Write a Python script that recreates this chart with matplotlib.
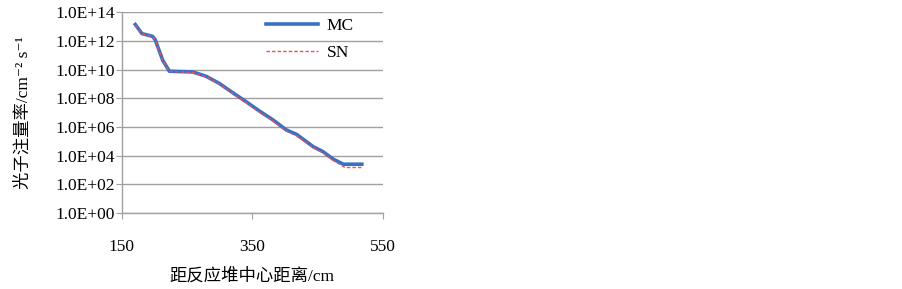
import numpy as np
import matplotlib
matplotlib.use("Agg")
import matplotlib.pyplot as plt
from matplotlib.ticker import FixedLocator, FuncFormatter, NullLocator

plt.rcParams['font.family'] = ['Liberation Serif', 'Noto Sans CJK SC', 'DejaVu Sans']

# Abstand zum Reaktorkern (cm) und log10 der Photonenflussdichte
mc_x = [170.5, 180.8, 187, 197, 201, 212.6, 222.8, 258.7, 279, 299.7, 320, 340.6,
        361, 381.8, 402, 417.7, 443, 458, 474, 489.5, 517.7]
mc_log = [13.14, 12.5, 12.43, 12.31, 12.08, 10.64, 9.88, 9.83, 9.53, 9.02, 8.38, 7.75,
          7.1, 6.48, 5.79, 5.48, 4.63, 4.28, 3.75, 3.4, 3.4]
sn_x = [170.5, 180.8, 187, 197, 201, 212.6, 222.8, 258.7, 279, 299.7, 320, 340.6,
        361, 381.8, 402, 417.7, 443, 458, 474, 492, 517.7]
sn_log = [13.1, 12.48, 12.41, 12.3, 12.06, 10.62, 9.86, 9.8, 9.5, 8.98, 8.33, 7.68,
          7.02, 6.4, 5.7, 5.38, 4.55, 4.2, 3.66, 3.17, 3.17]

xticks = [150, 350, 550]
yticks = [0, 2, 4, 6, 8, 10, 12, 14]

mc_y = 10 ** np.array(mc_log)
sn_y = 10 ** np.array(sn_log)

fs = 12.5

fig = plt.figure(figsize=(9.03, 2.89), dpi=100)
ax = fig.add_axes([0.135, 0.263, 0.289, 0.695])

ax.plot(mc_x, mc_y, color='#3a70c4', lw=2.6, label='MC')
ax.plot(sn_x, sn_y, color='#e8505a', lw=1.0, ls=(0, (2.5, 1.5)), label='SN')

ax.set_yscale('log')
ax.set_ylim(1, 1e14)
ax.set_xlim(150, 550)
ax.yaxis.set_major_locator(FixedLocator([10.0 ** k for k in yticks]))
ax.yaxis.set_minor_locator(NullLocator())
ax.yaxis.set_major_formatter(FuncFormatter(lambda v, p: "1.0E+%02d" % round(np.log10(v))))
ax.set_xticks(xticks)

ax.grid(axis='y', color='#a0a0a0', lw=1.0)
ax.set_axisbelow(True)
for s in ['top', 'right']:
    ax.spines[s].set_visible(False)
for s in ['left', 'bottom']:
    ax.spines[s].set_color('#a0a0a0')
    ax.spines[s].set_linewidth(1.0)

ax.tick_params(axis='y', length=4, color='#a0a0a0', labelsize=fs, pad=1)
ax.tick_params(axis='x', length=4, color='#a0a0a0', labelsize=fs, pad=15)

ax.set_xlabel('距反应堆中心距离/cm', fontsize=fs, labelpad=9)
ax.set_ylabel('光子注量率/cm⁻² s⁻¹', fontsize=fs, labelpad=17)

ax.legend(loc='upper right', frameon=False, fontsize=fs, handlelength=3.0,
          handletextpad=0.5, labelspacing=0.6, borderaxespad=0.0,
          bbox_to_anchor=(0.915, 1.005))

fig.savefig('out.png', dpi=100)
